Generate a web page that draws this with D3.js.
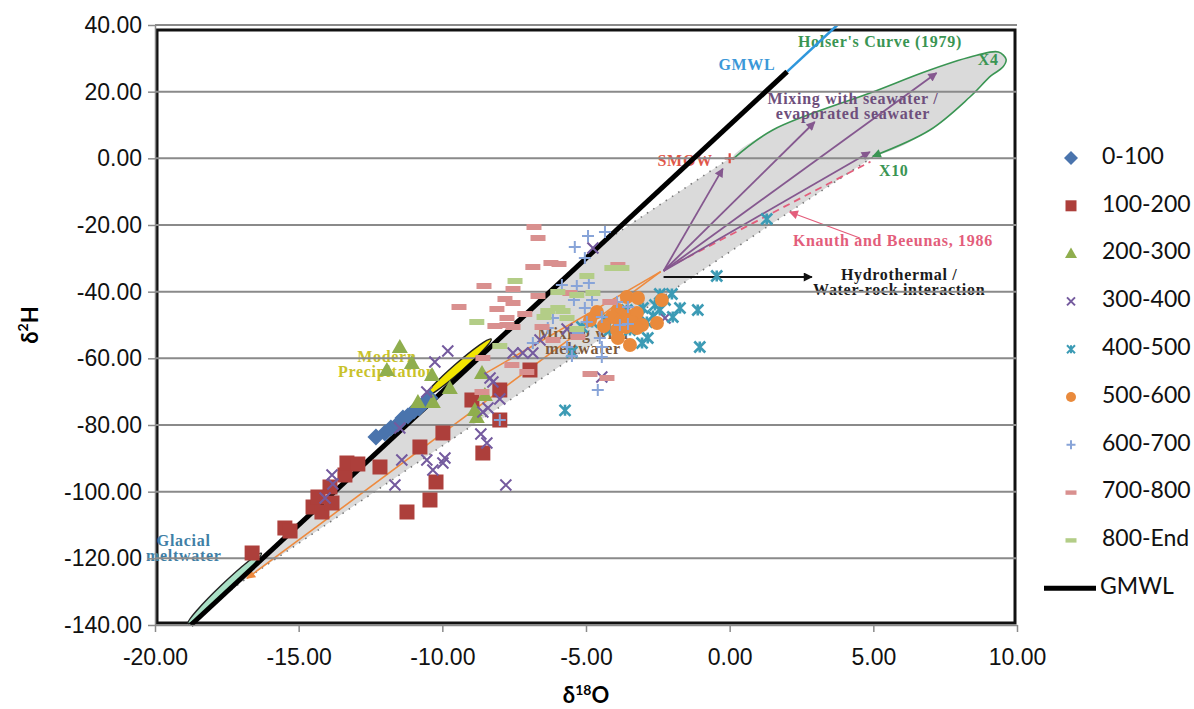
<!DOCTYPE html>
<html>
<head>
<meta charset="utf-8">
<script src="https://cdn.jsdelivr.net/npm/d3@7"></script>
<style>
body { margin: 0; background: #fff; }
svg { font-family: Lato, "Liberation Sans", sans-serif; }
.axis text { font-size: 23px; fill: #111; }
.axis path, .axis line { stroke: #8a8a8a; stroke-width: 1.5; }
.note { font-family: "Liberation Serif", "DejaVu Serif", serif; font-weight: bold; font-size: 16px; letter-spacing: 0.7px; }
.legend text { font-size: 23px; fill: #111; }
</style>
</head>
<body>
<svg id="chart"></svg>
<script>
// tick labels
const xTicks = [-20, -15, -10, -5, 0, 5, 10];
const yTicks = [-140, -120, -100, -80, -60, -40, -20, 0, 20, 40];

// sample depth classes
const seriesNames = ['0-100', '100-200', '200-300', '300-400', '400-500', '500-600', '600-700', '700-800', '800-End'];

// [d18O, d2H]
const depth0_100 = [
    [-12.31, -83.6], [-12.0, -82.4], [-11.79, -80.9], [-11.55, -79.7], [-11.37, -77.9],
    [-11.2, -77.3], [-10.99, -75.8], [-10.81, -74.9], [-10.64, -73.4], [-10.43, -71.9]
];
const depth100_200 = [
    [-16.62, -118.4], [-15.48, -110.9], [-15.3, -111.8], [-14.5, -104.6], [-14.19, -106.1],
    [-13.84, -103.4], [-14.33, -101.6], [-13.91, -98.6], [-13.39, -95.0], [-13.32, -91.4],
    [-12.94, -91.7], [-12.17, -92.6], [-10.78, -86.6], [-9.98, -82.4], [-11.23, -106.1],
    [-10.43, -102.5], [-10.22, -97.1], [-8.59, -88.4], [-8.97, -72.5], [-8.0, -69.5],
    [-8.0, -78.5], [-6.95, -63.5]
];
const depth200_300 = [
    [-11.48, -56.6], [-11.06, -61.4], [-11.93, -63.5], [-10.36, -65.0], [-9.74, -68.9],
    [-10.85, -73.1], [-10.33, -73.1], [-8.62, -64.4], [-8.52, -71.0], [-8.87, -75.5],
    [-8.8, -77.6]
];
const depth300_400 = [
    [-9.81, -57.8], [-10.26, -61.1], [-10.54, -70.1], [-11.48, -80.9], [-13.84, -95.0],
    [-13.81, -97.7], [-14.08, -101.9], [-11.41, -90.5], [-10.54, -90.5], [-10.33, -93.5],
    [-9.91, -89.9], [-9.98, -91.4], [-11.65, -98.0], [-7.79, -98.0], [-8.66, -82.7],
    [-8.45, -85.4], [-8.34, -65.9], [-8.24, -67.1], [-8.0, -72.2], [-8.41, -74.9],
    [-8.59, -76.1], [-7.54, -58.4], [-7.2, -58.4], [-6.85, -58.4], [-6.6, -54.5],
    [-5.66, -51.2], [-4.76, -26.9], [-2.25, -47.9], [-4.45, -65.6]
];
const depth400_500 = [
    [1.29, -18.2], [-0.45, -35.3], [-2.43, -40.7], [-2.01, -40.7], [-3.02, -44.9],
    [-2.43, -45.5], [-1.73, -44.9], [-1.11, -45.5], [-1.98, -47.6], [-2.67, -47.3],
    [-2.88, -49.1], [-3.05, -55.4], [-2.85, -53.9], [-1.04, -56.6], [-3.27, -50.0],
    [-3.58, -45.5], [-3.99, -47.9], [-3.82, -49.4], [-4.34, -48.5], [-4.79, -49.1],
    [-5.14, -50.6], [-5.49, -58.1], [-5.73, -75.6], [-3.47, -51.5], [-4.17, -51.5],
    [-2.6, -44.0], [-2.25, -42.5], [-3.12, -47.3]
];
const depth500_600 = [
    [-3.58, -41.6], [-3.19, -41.9], [-2.36, -42.5], [-4.62, -46.1], [-3.89, -45.5],
    [-4.1, -47.6], [-3.54, -47.3], [-3.23, -46.4], [-3.82, -49.1], [-3.4, -49.1],
    [-3.05, -50.0], [-2.53, -49.4], [-3.92, -51.5], [-3.23, -50.9], [-3.89, -53.9],
    [-3.47, -56.0], [-4.86, -48.5], [-4.38, -50.3], [-3.61, -50.6]
];
const depth600_700 = [
    [-4.93, -23.3], [-4.34, -22.1], [-5.39, -26.6], [-5.04, -29.9], [-5.84, -38.0],
    [-5.32, -38.3], [-4.9, -37.4], [-5.42, -42.5], [-4.79, -42.5], [-5.04, -44.9],
    [-6.15, -47.9], [-4.45, -47.6], [-3.92, -43.1], [-3.54, -44.6], [-6.85, -55.4],
    [-6.33, -50.9], [-5.66, -56.6], [-5.28, -52.4], [-4.97, -49.1], [-4.45, -56.6],
    [-4.45, -59.6], [-3.54, -49.7], [-4.52, -53.9], [-3.82, -50.0], [-5.49, -59.3],
    [-8.0, -78.5], [-4.59, -69.5]
];
const depth700_800 = [
    [-6.81, -20.6], [-6.67, -23.9], [-6.22, -31.4], [-5.94, -31.7], [-6.85, -32.6],
    [-8.55, -38.3], [-7.54, -39.2], [-7.82, -42.2], [-7.54, -43.4], [-8.1, -45.2],
    [-9.42, -44.6], [-7.75, -47.9], [-7.75, -50.0], [-8.17, -50.3], [-7.54, -50.6],
    [-7.13, -46.7], [-6.67, -41.3], [-5.56, -40.4], [-3.89, -32.0], [-4.17, -43.1],
    [-6.53, -50.6], [-6.15, -54.5], [-5.28, -53.6], [-7.58, -62.0], [-8.59, -59.9],
    [-7.06, -64.1], [-8.62, -70.1], [-4.86, -64.7], [-4.27, -65.9]
];
const depth800_end = [
    [-7.47, -36.8], [-8.8, -49.1], [-8.0, -56.3], [-4.97, -35.3], [-4.1, -32.9],
    [-3.75, -32.9], [-5.98, -40.1], [-5.32, -41.0], [-4.76, -40.4], [-6.33, -45.8],
    [-5.98, -44.9], [-5.8, -45.8], [-5.66, -47.9], [-6.46, -47.6], [-5.32, -51.2]
];
const allSeries = [depth0_100, depth100_200, depth200_300, depth300_400, depth400_500,
    depth500_600, depth600_700, depth700_800, depth800_end];

// global meteoric water line, ends of the drawn segment
const gmwlLine = [[-18.75, -140], [2, 26]];
const gmwlUpper = [[2, 26], [3.75, 40]];

// background schematic (after the source figure)
const greyBand = [[-18.9, -140], [-4.4, -25.2], [0, 0], [4.98, 0.4], [1.5, -19.4], [-6.26, -64.4], [-17.04, -127.4]];
const holserCurve = [[0.1, -0.3], [1.5, 8.5], [4.98, 19.9], [6.97, 26.5], [8.6, 30.9], [9.35, 31.9],
    [9.62, 29.7], [9.5, 27.3], [9.1, 24.8], [8.36, 18.4], [6.97, 8.5], [4.98, 0.6]];
const upperDotted = [[-4.4, -25.2], [0, 0]];
const lowerDotted = [[4.98, 0.4], [1.5, -19.4], [-6.26, -64.4], [-17.04, -127.4], [-18.9, -140]];
const mixOrigin = [-2.3, -33.8];
const mixEnds = [[-0.24, -3.1], [2.96, 10.9], [7.2, 25.6], [4.88, 1.9]];
const knauthLine = [[-2.2, -33], [4.9, -1]];
const knauthPointer = [[4.53, -23.9], [2.09, -16.1]];
const hydroArrow = [[-2.3, -35.6], [2.86, -35.6]];
const orangeLines = [
    [[-2.4, -34], [-16.8, -126]],
    [[-2.4, -34], [-8.8, -66]]
];
const modernPrecip = [[-10.6, -71.5], [-8.3, -54.2]];
const glacialMelt = [[-18.85, -139.5], [-16.3, -118.5]];
const smow = [0, 0];

const noteLabels = [
    {lines: ["Holser's Curve (1979)"], at: [5.23, 34.6], color: '#3a9553'},
    {lines: ['GMWL'], at: [0.6, 27.7], color: '#3b98d8'},
    {lines: ['X4'], at: [9.0, 29.2], color: '#3a9553'},
    {lines: ['X10'], at: [5.71, -4.1], color: '#3a9553'},
    {lines: ['SMOW'], at: [-1.55, -1.2], color: '#e0584a'},
    {lines: ['Mixing with seawater /', 'evaporated seawater'], at: [4.29, 17.6], color: '#6e4f7c'},
    {lines: ['Knauth and Beeunas, 1986'], at: [5.68, -25.1], color: '#e35d7b'},
    {lines: ['Hydrothermal /', 'Water-rock interaction'], at: [5.9, -35.3], color: '#1a1a1a'},
    {lines: ['Modern', 'Precipitation'], at: [-11.93, -60.0], color: '#c9c22a'},
    {lines: ['Mixing with', 'meltwater'], at: [-5.1, -53.0], color: '#7d5a3c'},
    {lines: ['Glacial', 'meltwater'], at: [-19.0, -115.0], color: '#3f7fa6'}
];

// marker look for each depth class
const seriesStyles = [
    {kind: 'diamond', color: '#4a74ad', size: 8.5, legendSize: 7},
    {kind: 'square', color: '#ad3f3b', size: 7.5, legendSize: 5.5},
    {kind: 'triangle', color: '#8fae4e', size: 8, legendSize: 6},
    {kind: 'cross', color: '#745a9e', size: 5.5, legendSize: 4},
    {kind: 'star', color: '#3c9bb5', size: 5.5, legendSize: 4},
    {kind: 'circle', color: '#e98a3c', size: 7, legendSize: 5},
    {kind: 'plus', color: '#88a4d8', size: 6, legendSize: 4.5},
    {kind: 'dash', color: '#d9908f', size: 7.5, legendSize: 5.5},
    {kind: 'dash', color: '#b3cd87', size: 7.5, legendSize: 5.5}
];

function markerPath(kind, s) {
    switch (kind) {
        case 'diamond': return `M0,${-s}L${s},0L0,${s}L${-s},0Z`;
        case 'square': return `M${-s},${-s}h${2 * s}v${2 * s}h${-2 * s}Z`;
        case 'triangle': return `M0,${-s}L${s},${s * 0.75}L${-s},${s * 0.75}Z`;
        case 'cross': return `M${-s},${-s}L${s},${s}M${-s},${s}L${s},${-s}`;
        case 'star': return `M${-s},${-s}L${s},${s}M${-s},${s}L${s},${-s}M0,${-s}V${s}`;
        case 'circle': return `M${s},0A${s},${s} 0 1,1 ${-s},0A${s},${s} 0 1,1 ${s},0Z`;
        case 'plus': return `M${-s},0H${s}M0,${-s}V${s}`;
        case 'dash': return `M${-s},${-s * 0.4}h${2 * s}v${s * 0.8}h${-2 * s}Z`;
    }
}
const stroked = k => k === 'cross' || k === 'star' || k === 'plus';

class IsotopeChart {

    constructor(_config) {
        this.config = {
            parentElement: _config.parentElement,
            containerWidth: _config.containerWidth || 1194,
            containerHeight: _config.containerHeight || 709,
            margin: _config.margin || {top: 25, right: 177, bottom: 84, left: 155}
        };
        this.initVis();
    }

    initVis() {
        let vis = this;

        vis.width = vis.config.containerWidth - vis.config.margin.left - vis.config.margin.right;
        vis.height = vis.config.containerHeight - vis.config.margin.top - vis.config.margin.bottom;

        vis.xScale = d3.scaleLinear().domain([-20, 10]).range([0, vis.width]);
        vis.yScale = d3.scaleLinear().domain([-140, 40]).range([vis.height, 0]);

        vis.svg = d3.select(vis.config.parentElement)
            .attr('width', vis.config.containerWidth)
            .attr('height', vis.config.containerHeight);

        vis.chart = vis.svg.append('g')
            .attr('transform', `translate(${vis.config.margin.left},${vis.config.margin.top})`);

        // arrow heads
        const defs = vis.svg.append('defs');
        [['purple', '#85588f'], ['black', '#111'], ['pink', '#e35d7b'], ['green', '#3a9553'], ['orange', '#ee8a3e']]
            .forEach(([name, c]) => {
                defs.append('marker')
                    .attr('id', 'arrow-' + name)
                    .attr('viewBox', '0 0 10 10')
                    .attr('refX', 9).attr('refY', 5)
                    .attr('markerWidth', 11).attr('markerHeight', 9)
                    .attr('markerUnits', 'userSpaceOnUse')
                    .attr('orient', 'auto')
                    .append('path')
                    .attr('d', 'M0,0L10,5L0,10Z')
                    .attr('fill', c);
            });

        vis.line = d3.line().x(d => vis.xScale(d[0])).y(d => vis.yScale(d[1]));

        vis.drawBackground();

        // gridlines over the background picture
        vis.chart.append('g')
            .selectAll('line')
            .data(yTicks.filter(d => d > -140))
            .join('line')
            .attr('x1', 0).attr('x2', vis.width)
            .attr('y1', d => vis.yScale(d)).attr('y2', d => vis.yScale(d))
            .attr('stroke', '#8a8a8a')
            .attr('stroke-width', 2);

        vis.xAxis = d3.axisBottom(vis.xScale)
            .tickValues(xTicks)
            .tickFormat(d => d.toFixed(2))
            .tickSize(7)
            .tickSizeOuter(0)
            .tickPadding(17);

        vis.yAxis = d3.axisLeft(vis.yScale)
            .tickValues(yTicks)
            .tickFormat(d => d.toFixed(2))
            .tickSize(7)
            .tickSizeOuter(0)
            .tickPadding(6);

        vis.marks = vis.chart.append('g');

        vis.xAxisG = vis.chart.append('g')
            .attr('class', 'axis x-axis')
            .attr('transform', `translate(0,${vis.height})`);
        vis.yAxisG = vis.chart.append('g')
            .attr('class', 'axis y-axis');

        // axis titles
        vis.svg.append('text')
            .attr('transform', `translate(32,${vis.config.margin.top + vis.height / 2}) rotate(-90)`)
            .attr('text-anchor', 'middle')
            .attr('dominant-baseline', 'middle')
            .style('font-size', '22px').style('font-weight', 'bold')
            .html('δ<tspan dy="-8" font-size="14">2</tspan><tspan dy="8">H</tspan>');
        vis.svg.append('text')
            .attr('x', vis.config.margin.left + vis.xScale(-5))
            .attr('y', 703)
            .attr('text-anchor', 'middle')
            .style('font-size', '22px').style('font-weight', 'bold')
            .html('δ<tspan dy="-8" font-size="14">18</tspan><tspan dy="8">O</tspan>');

        vis.drawLegend();
    }

    drawBackground() {
        let vis = this;
        const bg = vis.chart.append('g');
        const X = d => vis.xScale(d[0]), Y = d => vis.yScale(d[1]);

        // frame of the pasted schematic
        bg.append('rect')
            .attr('x', 2).attr('y', 5)
            .attr('width', vis.width - 4).attr('height', vis.height - 7)
            .attr('fill', 'none').attr('stroke', '#111').attr('stroke-width', 3);

        bg.append('path')
            .attr('d', vis.line(greyBand) + 'Z')
            .attr('fill', '#dadada');
        bg.append('path')
            .attr('d', d3.line().x(X).y(Y).curve(d3.curveCatmullRomClosed)(holserCurve))
            .attr('fill', '#dadada');

        [upperDotted, lowerDotted].forEach(pts => {
            bg.append('path')
                .attr('d', vis.line(pts))
                .attr('fill', 'none').attr('stroke', '#777')
                .attr('stroke-width', 1.6).attr('stroke-dasharray', '1.5,6');
        });

        bg.append('path')
            .attr('d', d3.line().x(X).y(Y).curve(d3.curveCatmullRom)(holserCurve))
            .attr('fill', 'none').attr('stroke', '#3a9553').attr('stroke-width', 1.6)
            .attr('marker-end', 'url(#arrow-green)');

        orangeLines.forEach(pts => {
            bg.append('path')
                .attr('d', vis.line(pts))
                .attr('stroke', '#ee8a3e').attr('stroke-width', 1.6)
                .attr('marker-end', 'url(#arrow-orange)');
        });

        bg.append('path')
            .attr('d', vis.line(knauthLine))
            .attr('stroke', '#e35d7b').attr('stroke-width', 1.8).attr('stroke-dasharray', '7,5');
        bg.append('path')
            .attr('d', vis.line(knauthPointer))
            .attr('stroke', '#e35d7b').attr('stroke-width', 1.3)
            .attr('marker-end', 'url(#arrow-pink)');

        mixEnds.forEach(end => {
            bg.append('path')
                .attr('d', vis.line([mixOrigin, end]))
                .attr('stroke', '#85588f').attr('stroke-width', 1.8)
                .attr('marker-end', 'url(#arrow-purple)');
        });

        bg.append('path')
            .attr('d', vis.line(hydroArrow))
            .attr('stroke', '#111').attr('stroke-width', 2)
            .attr('marker-end', 'url(#arrow-black)');

        // elongated ellipses sitting on the GMWL
        [[modernPrecip, '#f2e500'], [glacialMelt, '#a9e0c6']].forEach(([pts, fill]) => {
            const x1 = X(pts[0]), y1 = Y(pts[0]), x2 = X(pts[1]), y2 = Y(pts[1]);
            const ang = Math.atan2(y2 - y1, x2 - x1) * 180 / Math.PI;
            bg.append('ellipse')
                .attr('cx', (x1 + x2) / 2).attr('cy', (y1 + y2) / 2)
                .attr('rx', Math.hypot(x2 - x1, y2 - y1) / 2).attr('ry', 4.5)
                .attr('transform', `rotate(${ang},${(x1 + x2) / 2},${(y1 + y2) / 2})`)
                .attr('fill', fill).attr('stroke', '#222').attr('stroke-width', 1.5);
        });

        // SMOW marker
        bg.append('path')
            .attr('transform', `translate(${X(smow)},${Y(smow)})`)
            .attr('d', markerPath('plus', 5))
            .attr('stroke', '#e0463c').attr('stroke-width', 2.2);

        noteLabels.forEach(n => {
            const t = bg.append('text')
                .attr('class', 'note')
                .attr('x', X(n.at)).attr('y', Y(n.at))
                .attr('text-anchor', 'middle')
                .attr('dominant-baseline', 'middle')
                .attr('fill', n.color);
            n.lines.forEach((l, i) => {
                t.append('tspan').attr('x', X(n.at)).attr('dy', i === 0 ? 0 : 15).text(l);
            });
        });

        // GMWL: blue tail from the schematic, black fitted line
        bg.append('path')
            .attr('d', vis.line(gmwlUpper))
            .attr('stroke', '#2f97dc').attr('stroke-width', 2.5);
    }

    renderVis() {
        let vis = this;

        vis.marks.append('path')
            .attr('d', vis.line(gmwlLine))
            .attr('stroke', '#000').attr('stroke-width', 5);

        vis.marks.selectAll('.series')
            .data(allSeries)
            .join('g')
            .attr('class', 'series')
            .each(function (data, i) {
                const st = seriesStyles[i];
                d3.select(this).selectAll('path')
                    .data(data)
                    .join('path')
                    .attr('transform', d => `translate(${vis.xScale(d[0])},${vis.yScale(d[1])})`)
                    .attr('d', markerPath(st.kind, st.size))
                    .attr('fill', stroked(st.kind) ? 'none' : st.color)
                    .attr('stroke', stroked(st.kind) ? st.color : 'none')
                    .attr('stroke-width', st.kind === 'star' ? 2.6 : 2);
            });

        vis.xAxisG.call(vis.xAxis);
        vis.yAxisG.call(vis.yAxis);
    }

    drawLegend() {
        let vis = this;
        const lg = vis.svg.append('g').attr('class', 'legend');
        const rowY = i => 158 + i * 47.8;

        seriesNames.forEach((name, i) => {
            const st = seriesStyles[i];
            lg.append('path')
                .attr('transform', `translate(1071,${rowY(i)})`)
                .attr('d', markerPath(st.kind, st.legendSize))
                .attr('fill', stroked(st.kind) ? 'none' : st.color)
                .attr('stroke', stroked(st.kind) ? st.color : 'none')
                .attr('stroke-width', 2);
            lg.append('text')
                .attr('x', 1102).attr('y', rowY(i))
                .attr('dominant-baseline', 'middle')
                .text(name);
        });

        const gy = rowY(seriesNames.length);
        lg.append('line')
            .attr('x1', 1044).attr('x2', 1096)
            .attr('y1', gy).attr('y2', gy)
            .attr('stroke', '#000').attr('stroke-width', 5);
        lg.append('text')
            .attr('x', 1100).attr('y', gy)
            .attr('dominant-baseline', 'middle')
            .text('GMWL');
    }
}

const chart = new IsotopeChart({parentElement: '#chart'});
chart.renderVis();
</script>
</body>
</html>
